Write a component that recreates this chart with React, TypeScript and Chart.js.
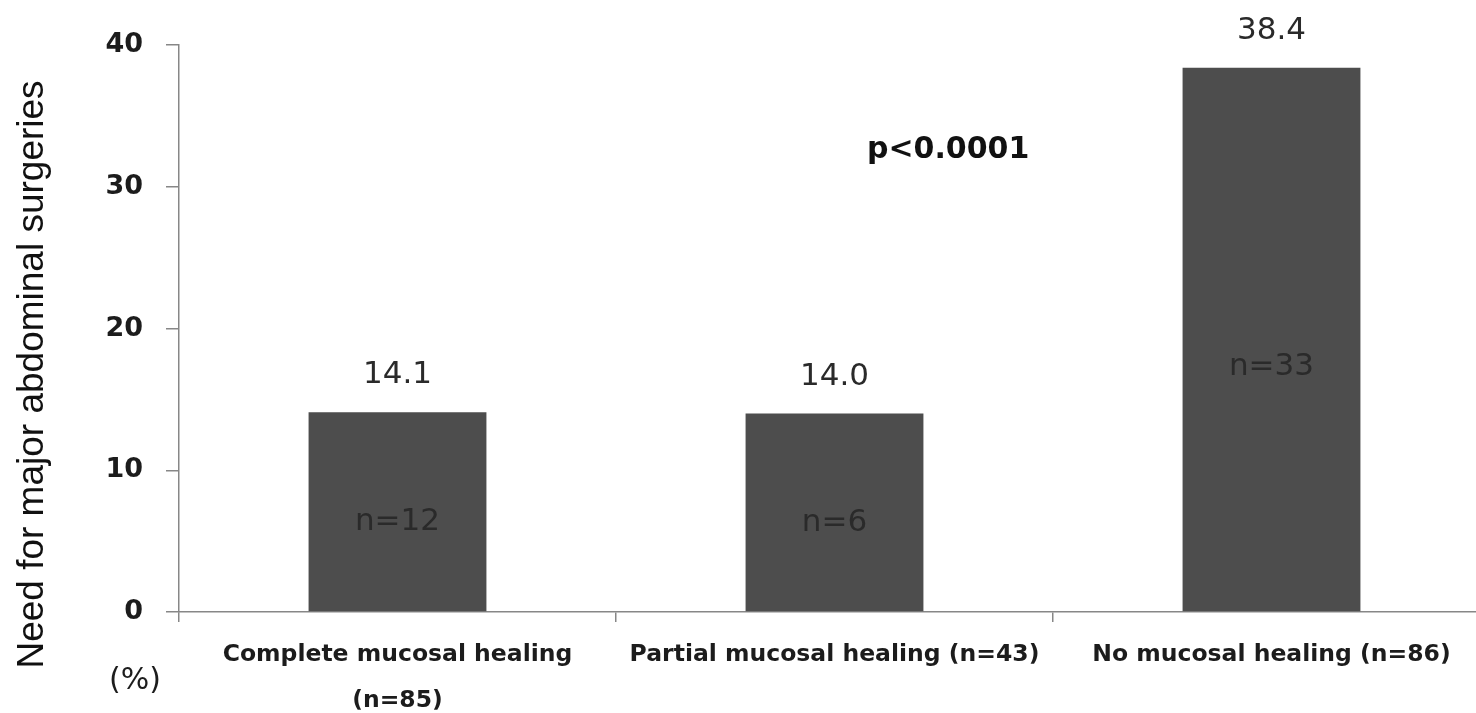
import React, { useEffect, useRef } from "react";
import { Chart, registerables } from "chart.js";

Chart.register(...registerables);

const categories: (string | string[])[] = [
  ["Complete mucosal healing", "(n=85)"],
  "Partial mucosal healing (n=43)",
  "No mucosal healing (n=86)",
];
const values: number[] = [14.1, 14.0, 38.4];
const eventCounts: number[] = [12, 6, 33];
const yTicks: number[] = [0, 10, 20, 30, 40];
const yTitle = "Need for major abdominal surgeries";
const unitLabel = "(%)";
const pText = "p<0.0001";

const AXIS = "#878787";
const TEXT = "#1c1c1c";
const BAR = "#4d4d4d";
const DV = "'DejaVu Sans', sans-serif";

const labelPlugin = {
  id: "customLabels",
  afterDatasetsDraw(chart: any) {
    const { ctx, scales, chartArea } = chart;
    const x = scales.x;
    const y = scales.y;
    ctx.save();
    ctx.textAlign = "center";
    ctx.textBaseline = "middle";
    ctx.fillStyle = "#2a2a2a";
    ctx.font = `31px ${DV}`;
    values.forEach((v, i) => {
      const px = x.getPixelForValue(i);
      ctx.fillText(v.toFixed(1), px, y.getPixelForValue(v) - 37);
      ctx.fillText("n=" + eventCounts[i], px, y.getPixelForValue(v * 0.45));
    });
    ctx.fillStyle = "#111";
    ctx.font = `bold 30px ${DV}`;
    ctx.fillText(pText, x.getPixelForValue(1.26), y.getPixelForValue(32.6));
    ctx.fillStyle = TEXT;
    ctx.font = `30px ${DV}`;
    ctx.fillText(unitLabel, chartArea.left - 44, chartArea.bottom + 69);
    // y axis title
    ctx.save();
    ctx.translate(43, (chartArea.top + chartArea.bottom) / 2 + 46);
    ctx.rotate(-Math.PI / 2);
    ctx.textBaseline = "alphabetic";
    ctx.fillStyle = "#111";
    ctx.font = "37px 'Liberation Sans', Arial, sans-serif";
    ctx.fillText(yTitle, 0, 0);
    ctx.restore();
    ctx.restore();
  },
};

export default function App() {
  const ref = useRef<HTMLCanvasElement>(null);
  useEffect(() => {
    if (!ref.current) return;
    const chart = new Chart(ref.current, {
      type: "bar",
      data: {
        labels: categories,
        datasets: [
          {
            data: values,
            backgroundColor: BAR,
            borderWidth: 0,
            barPercentage: 0.407,
            categoryPercentage: 1,
          },
        ],
      },
      options: {
        animation: false,
        responsive: false,
        devicePixelRatio: 1,
        layout: { padding: { top: 45, right: 10, bottom: 0, left: 0 } },
        plugins: { legend: { display: false }, tooltip: { enabled: false } },
        scales: {
          x: {
            ticks: {
              padding: 10,
              color: TEXT,
              maxRotation: 0,
              autoSkip: false,
              font: { family: DV, weight: "bold", size: 23.5, lineHeight: "46px" },
            },
            grid: { drawOnChartArea: false, tickLength: 10, color: AXIS, lineWidth: 1.5, offset: true },
            border: { display: true, color: AXIS, width: 1.5 },
            afterFit(s: any) {
              s.height = 101;
            },
          },
          y: {
            min: yTicks[0],
            max: yTicks[yTicks.length - 1],
            afterBuildTicks(s: any) {
              s.ticks = yTicks.map((v) => ({ value: v }));
            },
            ticks: {
              padding: 23,
              color: TEXT,
              font: { family: DV, weight: "bold", size: 27 },
            },
            grid: { drawOnChartArea: false, drawTicks: true, tickLength: 13, color: AXIS, lineWidth: 1.5 },
            border: { display: true, color: AXIS, width: 1.5 },
            afterFit(s: any) {
              s.width = 179;
            },
          },
        },
      },
      plugins: [labelPlugin],
    });
    return () => chart.destroy();
  }, []);
  return (
    <div
      style={{
        position: "fixed",
        left: 0,
        top: 0,
        width: 1476,
        height: 713,
        overflow: "hidden",
        background: "#fff",
      }}
    >
      <canvas ref={ref} width={1500} height={713} style={{ display: "block" }} />
    </div>
  );
}
